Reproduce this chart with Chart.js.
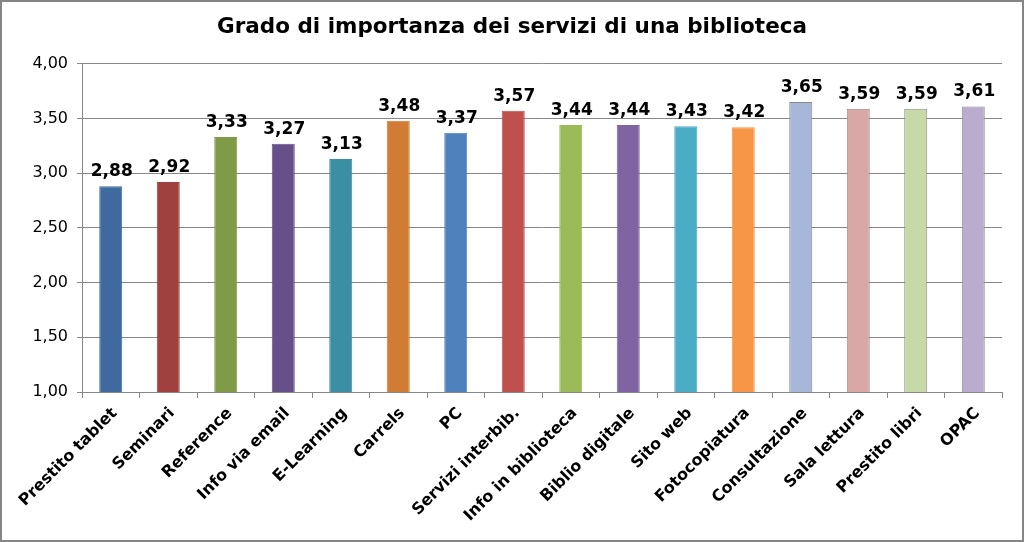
<!DOCTYPE html>
<html><head><meta charset="utf-8">
<script src="https://cdn.jsdelivr.net/npm/chart.js@4.4.0/dist/chart.umd.min.js"></script>
<style>
html,body{margin:0;padding:0;background:#fff;}
#wrap{position:relative;width:1024px;height:542px;box-sizing:border-box;border:2px solid #858585;background:#fff;}
canvas{display:block;}
</style></head><body>
<div id="wrap"><canvas id="c" width="1020" height="538"></canvas></div>
<script>
const chartTitle = 'Grado di importanza dei servizi di una biblioteca';
const categories = ['Prestito tablet','Seminari','Reference','Info via email','E-Learning','Carrels','PC','Servizi interbib.','Info in biblioteca','Biblio digitale','Sito web','Fotocopiatura','Consultazione','Sala lettura','Prestito libri','OPAC'];
const values = [2.88,2.92,3.33,3.27,3.13,3.48,3.37,3.57,3.44,3.44,3.43,3.42,3.65,3.59,3.59,3.61];
const barColors = ['#3e6aa0','#a1413f','#7f9b48','#67508a','#3a8fa4','#d07c35','#4f81bd','#c0504d','#9bbb59','#8064a2','#4bacc6','#f79646','#a6b7da','#d9a7a6','#c7d9a7','#b9acce'];
const barBorders = ['#3e6aa0','#a1413f','#7f9b48','#67508a','#3a8fa4','#d07c35','#4f81bd','#c0504d','#9bbb59','#8064a2','#4bacc6','#f79646','#8a8a8a','#8a8a8a','#8a8a8a','#8a8a8a'];
const yMin = 1, yMax = 4, yStep = 0.5;

const fmt = v => Number(v).toFixed(2).replace('.', ',');
const gridColor = '#878787';

const valueLabels = {
  id: 'valueLabels',
  afterDatasetsDraw(chart) {
    const ctx = chart.ctx;
    const meta = chart.getDatasetMeta(0);
    ctx.save();
    ctx.font = 'bold 17px "DejaVu Sans"';
    ctx.fillStyle = '#000';
    ctx.textAlign = 'center';
    ctx.textBaseline = 'alphabetic';
    meta.data.forEach((bar, i) => {
      ctx.fillText(fmt(values[i]), bar.x + 1, bar.y - 10);
    });
    ctx.restore();
  }
};

new Chart(document.getElementById('c'), {
  type: 'bar',
  data: {
    labels: categories,
    datasets: [{
      data: values,
      backgroundColor: barColors,
      borderColor: barBorders,
      borderWidth: 1,
      barPercentage: 0.4,
      categoryPercentage: 1.0
    }]
  },
  options: {
    responsive: false,
    animation: false,
    devicePixelRatio: 1,
    layout: { padding: 0 },
    plugins: {
      legend: { display: false },
      tooltip: { enabled: false },
      title: {
        display: true,
        text: chartTitle,
        color: '#000',
        font: { family: '"DejaVu Sans"', weight: 'bold', size: 21.5 },
        padding: { top: 13, bottom: 23 }
      }
    },
    scales: {
      x: {
        grid: { offset: true, drawOnChartArea: false, drawTicks: true, tickLength: 6, color: gridColor },
        border: { color: gridColor },
        ticks: {
          autoSkip: false, minRotation: 45, maxRotation: 45, padding: 6, labelOffset: 4, color: '#000',
          font: { family: '"DejaVu Sans"', weight: 'bold', size: 16 }
        },
        afterFit(scale) { scale.height = 148; }
      },
      y: {
        min: yMin, max: yMax,
        ticks: {
          stepSize: yStep, color: '#000', padding: 9,
          font: { family: '"DejaVu Sans"', size: 16 },
          callback: v => fmt(v)
        },
        grid: { color: gridColor, tickLength: 5 },
        border: { color: gridColor },
        afterFit(scale) { scale.width = 80; }
      },
      yRight: {
        position: 'right',
        min: yMin, max: yMax,
        display: true,
        ticks: { display: false },
        grid: { display: false, drawOnChartArea: false, drawTicks: false },
        border: { display: false },
        afterFit(scale) { scale.width = 20; }
      }
    }
  },
  plugins: [valueLabels]
});
</script>
</body></html>
